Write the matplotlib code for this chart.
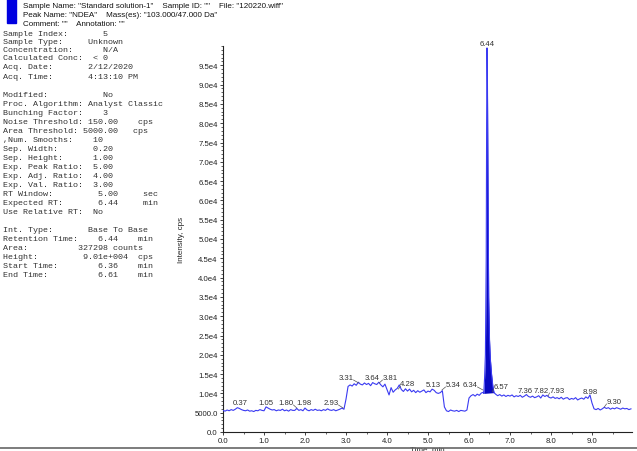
import numpy as np
import matplotlib
matplotlib.use("Agg")
import matplotlib.pyplot as plt
from matplotlib.ticker import FixedLocator, FixedFormatter, MultipleLocator
from matplotlib.patches import Rectangle
from matplotlib.lines import Line2D

# ---------------- data ----------------
trace_step = 0.05  # min, sampling of the baseline trace
trace_counts = [
    # 0.00 - 0.95
    5600, 5400, 5700, 5500, 5800, 5600, 5900, 6300, 6100, 5800,
    5600, 5500, 5700, 5400, 5500, 5300, 5600, 5500, 5800, 5600,
    # 1.00 - 1.95
    5500, 6500, 6200, 5900, 5700, 5800, 5500, 5700, 5600, 5900,
    5500, 5700, 5400, 5800, 5600, 5600, 6100, 5600, 5800, 5500,
    # 2.00 - 2.95
    6200, 5700, 5500, 5800, 5600, 5900, 5600, 5700, 5500, 5800,
    5600, 6000, 5700, 5600, 5800, 5500, 5700, 5900, 6200, 5900,
    # 3.00 - 3.95
    8500, 11800, 12200, 11900, 12500, 12100, 12900, 12400, 12200, 12700,
    12300, 12600, 12000, 12800, 12500, 12300, 12900, 12200, 11700, 12400,
    # 4.00 - 4.95
    11000, 9600, 11500, 10300, 10900, 11300, 12200, 11000, 10500, 11200,
    10600, 11100, 10400, 10800, 10200, 10700, 10300, 10600, 10900, 10200,
    # 5.00 - 5.95
    10600, 10400, 11100, 10800, 10200, 10000, 10200, 10700, 6500, 5500,
    5300, 5700, 5500, 5400, 5600, 5300, 5600, 5500, 5400, 5700,
    # 6.00 - 6.95
    8800, 9400, 9700, 9300, 9800, 9500, 10100, 10300, 10000, 10000,
    10000, 10000, 10000, 9800, 9400, 9700, 9300, 9600, 9200, 9500,
    # 7.00 - 7.95
    9300, 9600, 9100, 9400, 9200, 9500, 9000, 9300, 9700, 9200,
    9000, 9300, 8900, 9100, 9400, 8800, 9600, 9200, 9500, 9000,
    # 8.00 - 8.95
    8800, 9100, 8700, 8900, 8600, 9000, 8500, 8800, 8900, 8400,
    8700, 8500, 8900, 8300, 8600, 8800, 8500, 9100, 8700, 9600,
    # 9.00 - 9.95
    7500, 6000, 5800, 6100, 5700, 6000, 6400, 6100, 6300, 5900,
    6200, 6000, 6300, 6100, 5900, 6200, 6000, 6100, 5800, 6000,
]

peak_time = [6.36, 6.38, 6.40, 6.42, 6.43, 6.44, 6.45, 6.46, 6.48,
             6.50, 6.52, 6.55, 6.58, 6.61]
peak_counts = [10000, 14000, 20000, 45000, 80000, 99500, 90000, 70000, 35000,
               24000, 19000, 15000, 12000, 10200]

peak_labels = ["0.37", "1.05", "1.80", "1.98", "2.93", "3.31", "3.64", "3.81",
               "4.28", "5.13", "5.34", "6.34", "6.44", "6.57", "7.36", "7.82",
               "7.93", "8.98", "9.30"]

x_ticks = [0, 1, 2, 3, 4, 5, 6, 7, 8, 9]
x_ticklabels = ["0.0", "1.0", "2.0", "3.0", "4.0", "5.0", "6.0", "7.0", "8.0", "9.0"]
y_ticks = [0, 5000, 10000, 15000, 20000, 25000, 30000, 35000, 40000, 45000,
           50000, 55000, 60000, 65000, 70000, 75000, 80000, 85000, 90000, 95000]
y_ticklabels = ["0.0", "5000.0", "1.0e4", "1.5e4", "2.0e4", "2.5e4", "3.0e4",
                "3.5e4", "4.0e4", "4.5e4", "5.0e4", "5.5e4", "6.0e4", "6.5e4",
                "7.0e4", "7.5e4", "8.0e4", "8.5e4", "9.0e4", "9.5e4"]

header_lines = [
    'Sample Name: "Standard solution-1"    Sample ID: ""    File: "120220.wiff"',
    'Peak Name: "NDEA"    Mass(es): "103.000/47.000 Da"',
    'Comment: ""    Annotation: ""',
]

info_lines = [
    "Sample Index:       5",
    "Sample Type:     Unknown",
    "Concentration:      N/A",
    "Calculated Conc:  < 0",
    "Acq. Date:       2/12/2020",
    "Acq. Time:       4:13:10 PM",
    "",
    "Modified:           No",
    "Proc. Algorithm: Analyst Classic",
    "Bunching Factor:    3",
    "Noise Threshold: 150.00    cps",
    "Area Threshold: 5000.00   cps",
    ",Num. Smooths:    10",
    "Sep. Width:       0.20",
    "Sep. Height:      1.00",
    "Exp. Peak Ratio:  5.00",
    "Exp. Adj. Ratio:  4.00",
    "Exp. Val. Ratio:  3.00",
    "RT Window:         5.00     sec",
    "Expected RT:       6.44     min",
    "Use Relative RT:  No",
    "",
    "Int. Type:       Base To Base",
    "Retention Time:    6.44    min",
    "Area:          327298 counts",
    "Height:         9.01e+004  cps",
    "Start Time:        6.36    min",
    "End Time:          6.61    min",
]
info_y_px = [33, 41, 49, 57, 66, 76, 85, 94, 103, 112, 121, 130, 139, 148,
             157, 166, 175, 184, 193, 202, 211, 220, 229, 238, 247, 256, 265, 274]

# label layout: text centre (px), text y centre (px)
label_x_px = [240, 266, 286, 304, 331, 346, 372, 390, 408, 433, 453, 470, 487,
              501, 525, 541, 557, 590, 614]
label_y_px = [404, 404, 404, 404, 404, 379, 379, 379, 385, 386, 386, 386, 44,
              388, 392, 392, 392, 393, 403]

# ---------------- figure ----------------
W, H = 637, 452
fig = plt.figure(figsize=(W / 100, H / 100), dpi=100)

X0, X1 = 223, 632
Y0, Y1 = 433, 47
ax = fig.add_axes([X0 / W, 1 - Y0 / H, (X1 - X0) / W, (Y0 - Y1) / H])

XMAX = (X1 - X0) / 41.0
YMAX = 100000
ax.set_xlim(0, XMAX)
ax.set_ylim(0, YMAX)

n = len(trace_counts)
t_base = np.round(np.arange(n) * trace_step, 3)
counts_base = np.array(trace_counts, dtype=float)
keep = (t_base < peak_time[0]) | (t_base > peak_time[-1])
t_all = np.concatenate([t_base[keep], peak_time])
c_all = np.concatenate([counts_base[keep], peak_counts])
order = np.argsort(t_all)
t_all, c_all = t_all[order], c_all[order]

line_col = "#3a3af2"
fill_col = "#0808c0"

# peak fill (base to base)
pt = np.array(peak_time)
pc = np.array(peak_counts, dtype=float)
base = pc[0] + (pc[-1] - pc[0]) * (pt - pt[0]) / (pt[-1] - pt[0])
ax.fill_between(pt, base, pc, color=fill_col, lw=0, zorder=2)
ax.plot(t_all, c_all, color=line_col, lw=0.8, zorder=3)

# spines / ticks
for s in ["top", "right"]:
    ax.spines[s].set_visible(False)
for s in ["left", "bottom"]:
    ax.spines[s].set_linewidth(0.8)
    ax.spines[s].set_color("#222222")

ax.xaxis.set_major_locator(FixedLocator(x_ticks))
ax.xaxis.set_major_formatter(FixedFormatter(x_ticklabels))
ax.xaxis.set_minor_locator(MultipleLocator(0.5))
ax.yaxis.set_major_locator(FixedLocator(y_ticks))
ax.yaxis.set_major_formatter(FixedFormatter(y_ticklabels))
ax.yaxis.set_minor_locator(MultipleLocator(1000))
ax.tick_params(which="major", direction="out", length=2.5, width=0.6,
               color="#222222", labelsize=5.6, pad=1.2, labelcolor="#222222")
ax.tick_params(which="minor", direction="out", length=1.3, width=0.5,
               color="#222222")
for lab in ax.get_xticklabels() + ax.get_yticklabels():
    lab.set_family("Liberation Sans")

ax.set_xlabel("Time, min", fontsize=5.8, family="Liberation Sans",
              color="#222222", labelpad=0.3)
ax.set_ylabel("Intensity, cps", fontsize=5.8, family="Liberation Sans",
              color="#222222", labelpad=7)

# peak labels
def to_data(px, py):
    return (px - X0) / 41.0, (Y0 - py) / (Y0 - Y1) * YMAX

for lab, lx, ly in zip(peak_labels, label_x_px, label_y_px):
    rt = float(lab)
    tx, ty = to_data(lx, ly)
    ax.text(tx, ty, lab, ha="center", va="center", fontsize=5.6,
            family="Liberation Sans", color="#333333", clip_on=False, zorder=5)
    rt_px = X0 + rt * 41.0
    if abs(rt_px - lx) > 8:
        half = 7.5
        sx = lx + half if rt_px > lx else lx - half
        (x_a, y_a) = to_data(sx, ly + 2)
        (x_b, y_b) = to_data(rt_px, ly + 5)
        ax.add_line(Line2D([x_a, x_b], [y_a, y_b], color="#555555", lw=0.5,
                           clip_on=False, zorder=5))

# header
fig.patches.append(Rectangle((7 / W, 1 - 24 / H), 9 / W, 24 / H,
                             transform=fig.transFigure, color="#0000e0", zorder=5))
header_pos = [(23, 8), (23, 17), (23, 26)]
for txt, (hx, hy) in zip(header_lines, header_pos):
    fig.text(hx / W, (H - hy) / H, txt, ha="left", va="baseline", fontsize=5.8,
             family="Liberation Sans", color="#111111")

for txt, yp in zip(info_lines, info_y_px):
    if txt:
        fig.text(3 / W, (H - (yp + 3)) / H, txt, ha="left", va="baseline",
                 fontsize=6, family="Liberation Mono", color="#333333")

# bottom separator line
fig.add_artist(Line2D([0, 1], [1 - 449 / H, 1 - 449 / H], transform=fig.transFigure,
                      color="#666666", lw=1.2, zorder=1))

fig.savefig("out.png", dpi=100)
